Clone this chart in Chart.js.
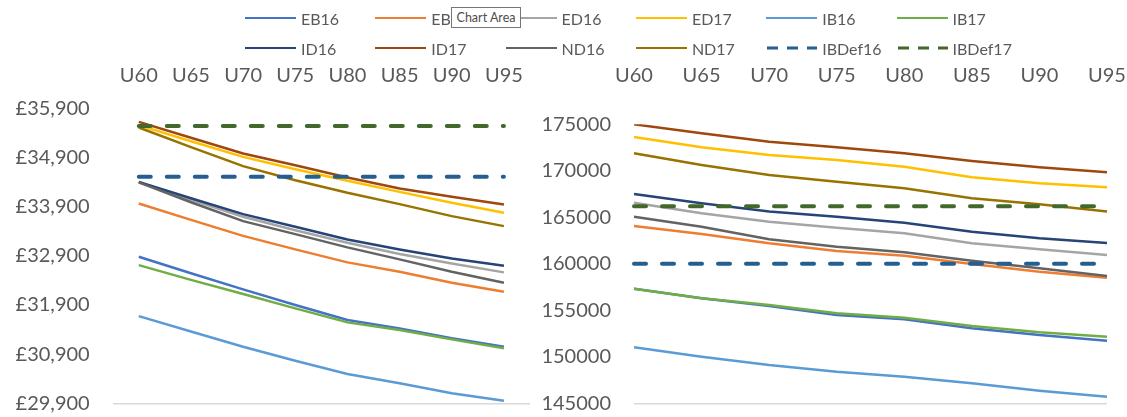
<!DOCTYPE html>
<html>
<head>
<meta charset="utf-8">
<script src="https://cdn.jsdelivr.net/npm/chart.js@4.4.1/dist/chart.umd.min.js"></script>
<style>
  html, body { margin: 0; padding: 0; background: #fff; }
  #wrap { position: relative; width: 1127px; height: 417px; overflow: hidden; font-family: Lato, "Open Sans", sans-serif; color: #595959; }
  #leftBox  { position: absolute; left: 0;     top: 0; width: 560px; height: 417px; }
  #rightBox { position: absolute; left: 520px; top: 0; width: 607px; height: 417px; }
  .leg { position: absolute; height: 20px; display: flex; align-items: center; font-size: 16px; white-space: nowrap; }
  .leg svg { margin-right: 5px; }
  #tip { position: absolute; left: 451px; top: 7px; width: 68px; height: 19px; border: 1px solid #767676; background: #fff;
         font-size: 12.5px; color: #4d4d4d; line-height: 19px; text-align: center; }
</style>
</head>
<body>
<div id="wrap">
  <div id="leftBox"><canvas id="leftChart"></canvas></div>
  <div id="rightBox"><canvas id="rightChart"></canvas></div>
  <div id="legend"></div>
  <div id="tip">Chart Area</div>
</div>
<script>
// categories (age bands)
const categories = ['U60', 'U65', 'U70', 'U75', 'U80', 'U85', 'U90', 'U95'];

const seriesNames  = ['EB16', 'EB17', 'ED16', 'ED17', 'IB16', 'IB17', 'ID16', 'ID17', 'ND16', 'ND17', 'IBDef16', 'IBDef17'];
const seriesColors = ['#4472C4', '#ED7D31', '#A5A5A5', '#FFC000', '#5B9BD5', '#70AD47', '#264478', '#9E480E', '#636363', '#997300', '#255E91', '#43682B'];
const dashedSeries = ['IBDef16', 'IBDef17'];

// left panel (£)
const leftEB16    = [32880, 32545, 32217, 31898, 31593, 31424, 31221, 31050];
const leftEB17    = [33965, 33630, 33306, 33030, 32766, 32575, 32351, 32168];
const leftED16    = [34395, 34040, 33693, 33420, 33164, 32935, 32745, 32563];
const leftED17    = [35557, 35230, 34912, 34662, 34425, 34200, 33977, 33774];
const leftIB16    = [31674, 31360, 31050, 30766, 30496, 30306, 30103, 29953];
const leftIB17    = [32711, 32410, 32122, 31831, 31546, 31390, 31200, 31018];
const leftID16    = [34404, 34070, 33748, 33490, 33233, 33030, 32847, 32697];
const leftID17    = [35624, 35300, 34981, 34743, 34494, 34270, 34100, 33945];
const leftND16    = [34392, 33990, 33605, 33341, 33071, 32827, 32575, 32351];
const leftND17    = [35510, 35110, 34723, 34438, 34181, 33951, 33707, 33504];
const leftIBDef16 = [34506, 34506, 34506, 34506, 34506, 34506, 34506, 34506];
const leftIBDef17 = [35542, 35542, 35542, 35542, 35542, 35542, 35542, 35542];
const leftTicks   = { min: 29900, max: 35900, step: 1000 };

// right panel
const rightEB16    = [157323, 156290, 155462, 154495, 154032, 153065, 152344, 151731];
const rightEB17    = [164065, 163204, 162204, 161376, 160871, 159978, 159150, 158505];
const rightED16    = [166570, 165430, 164527, 163882, 163280, 162204, 161559, 160946];
const rightED17    = [173634, 172527, 171699, 171161, 170441, 169301, 168656, 168226];
const rightIB16    = [151022, 150011, 149118, 148398, 147860, 147151, 146355, 145710];
const rightIB17    = [157323, 156290, 155570, 154677, 154205, 153312, 152634, 152161];
const rightID16    = [167505, 166505, 165613, 165065, 164419, 163452, 162742, 162237];
const rightID17    = [175000, 174032, 173129, 172527, 171882, 171054, 170376, 169839];
const rightND16    = [165065, 163990, 162634, 161839, 161237, 160333, 159516, 158688];
const rightND17    = [171882, 170624, 169550, 168828, 168118, 167043, 166398, 165613];
const rightIBDef16 = [160000, 160000, 160000, 160000, 160000, 160000, 160000, 160000];
const rightIBDef17 = [166200, 166200, 166200, 166200, 166200, 166200, 166200, 166200];
const rightTicks   = { min: 145000, max: 175000, step: 5000 };

const leftValues  = [leftEB16, leftEB17, leftED16, leftED17, leftIB16, leftIB17, leftID16, leftID17, leftND16, leftND17, leftIBDef16, leftIBDef17];
const rightValues = [rightEB16, rightEB17, rightED16, rightED17, rightIB16, rightIB17, rightID16, rightID17, rightND16, rightND17, rightIBDef16, rightIBDef17];

const FONT = 'Lato, "Open Sans", sans-serif';
const TEXT = '#595959';

function buildDatasets(values) {
  return values.map((data, i) => {
    const dashed = dashedSeries.includes(seriesNames[i]);
    return {
      label: seriesNames[i],
      data: data,
      borderColor: seriesColors[i],
      backgroundColor: seriesColors[i],
      borderWidth: dashed ? 4 : 2.5,
      borderDash: dashed ? [12, 16] : [],
      borderCapStyle: dashed ? 'round' : 'butt',
      pointRadius: 0,
      tension: 0,
      fill: false,
      order: values.length - i, // later series on top, like Excel
    };
  });
}

function noPad(s) {
  s.paddingTop = 0; s.paddingBottom = 0; s.paddingLeft = 0; s.paddingRight = 0;
}

function makeChart(id, values, t, opt) {
  return new Chart(document.getElementById(id), {
    type: 'line',
    data: { labels: categories, datasets: buildDatasets(values) },
    options: {
      responsive: true,
      maintainAspectRatio: false,
      animation: false,
      layout: { padding: { left: 0, top: 0, right: opt.padRight, bottom: 13.7 } },
      plugins: { legend: { display: false }, tooltip: { enabled: false } },
      scales: {
        x: {
          position: 'top',
          offset: opt.offset,
          grid: { display: false },
          border: { display: false },
          ticks: { color: TEXT, font: { family: FONT, size: 20 }, padding: opt.xPad, maxRotation: 0, autoSkip: false },
          afterFit: s => { s.height = opt.top; noPad(s); },
        },
        y: {
          min: t.min,
          max: t.max,
          border: { display: false },
          grid: {
            drawTicks: false,
            lineWidth: 1.5,
            color: c => (c.tick && c.tick.value === t.min) ? '#d9d9d9' : 'rgba(0,0,0,0)',
          },
          ticks: { stepSize: t.step, padding: 23, color: TEXT, font: { family: FONT, size: 20 }, callback: opt.fmt },
          afterFit: s => { s.width = opt.yWidth; noPad(s); },
        },
      },
    },
  });
}

makeChart('leftChart', leftValues, leftTicks, {
  offset: true, padRight: 30, top: 108.3, xPad: 12.3, yWidth: 112.7,
  fmt: v => '£' + Number(v).toLocaleString('en-GB'),
});
makeChart('rightChart', rightValues, rightTicks, {
  offset: false, padRight: 20, top: 124.3, xPad: 28.3, yWidth: 114,
  fmt: v => String(v),
});

// legend — 6 columns, 2 rows
const legX = 245, legStep = 130.3, legRows = [18.3, 48.3];
document.getElementById('legend').innerHTML = seriesNames.map((name, i) => {
  const col = i % 6, row = Math.floor(i / 6);
  const dashed = dashedSeries.includes(name);
  const line = dashed
    ? `<line x1="1" y1="4" x2="51" y2="4" stroke="${seriesColors[i]}" stroke-width="3" stroke-dasharray="11 9"/>`
    : `<line x1="0" y1="4" x2="51" y2="4" stroke="${seriesColors[i]}" stroke-width="2"/>`;
  return `<div class="leg" style="left:${legX + col * legStep}px;top:${legRows[row] - 10}px">
    <svg width="51" height="8">${line}</svg><span>${name}</span></div>`;
}).join('');
</script>
</body>
</html>
